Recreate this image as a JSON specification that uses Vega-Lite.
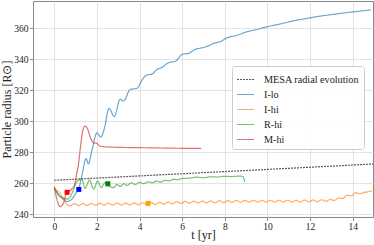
{
  "$schema": "https://vega.github.io/schema/vega-lite/v6.json",
  "width": 340,
  "height": 216,
  "autosize": {"type": "none"},
  "padding": {"left": 33, "top": 1, "right": 1, "bottom": 28},
  "config": {
    "view": {"stroke": "#888", "strokeWidth": 1},
    "font": "Liberation Serif",
    "axis": {
      "domain": false,
      "grid": true,
      "gridColor": "#dcdcdc",
      "gridWidth": 0.8,
      "tickColor": "#888",
      "tickSize": 3.5,
      "labelOverlap": false,
      "labelFont": "Liberation Serif",
      "labelFontSize": 9.5,
      "labelColor": "#222",
      "titleFont": "Liberation Serif",
      "titleFontSize": 12,
      "titleFontWeight": "normal",
      "titleColor": "#222"
    }
  },
  "datasets": {
    "lines": [
      {"series": "MESA radial evolution", "t": 0, "r": 262.0},
      {"series": "MESA radial evolution", "t": 4, "r": 264.8},
      {"series": "MESA radial evolution", "t": 8, "r": 267.6},
      {"series": "MESA radial evolution", "t": 12, "r": 270.4},
      {"series": "MESA radial evolution", "t": 14.95, "r": 272.5},

      {"series": "I-lo", "t": 0, "r": 256.8},
      {"series": "I-lo", "t": 0.15, "r": 253.5},
      {"series": "I-lo", "t": 0.35, "r": 250.5},
      {"series": "I-lo", "t": 0.6, "r": 248.3},
      {"series": "I-lo", "t": 0.8, "r": 249.5},
      {"series": "I-lo", "t": 1.0, "r": 253.5},
      {"series": "I-lo", "t": 1.15, "r": 256.5},
      {"series": "I-lo", "t": 1.3, "r": 265.5},
      {"series": "I-lo", "t": 1.49, "r": 276.0},
      {"series": "I-lo", "t": 1.6, "r": 272.5},
      {"series": "I-lo", "t": 1.76, "r": 281.0},
      {"series": "I-lo", "t": 2.0, "r": 292.5},
      {"series": "I-lo", "t": 2.18, "r": 289.8},
      {"series": "I-lo", "t": 2.34, "r": 295.0},
      {"series": "I-lo", "t": 2.57, "r": 308.4},
      {"series": "I-lo", "t": 2.81, "r": 303.0},
      {"series": "I-lo", "t": 3.09, "r": 314.2},
      {"series": "I-lo", "t": 3.25, "r": 313.1},
      {"series": "I-lo", "t": 3.56, "r": 320.6},
      {"series": "I-lo", "t": 3.88, "r": 321.3},
      {"series": "I-lo", "t": 4.11, "r": 326.6},
      {"series": "I-lo", "t": 4.35, "r": 329.9},
      {"series": "I-lo", "t": 4.58, "r": 330.5},
      {"series": "I-lo", "t": 4.82, "r": 333.5},
      {"series": "I-lo", "t": 5.05, "r": 334.8},
      {"series": "I-lo", "t": 5.36, "r": 337.8},
      {"series": "I-lo", "t": 5.68, "r": 338.7},
      {"series": "I-lo", "t": 6.0, "r": 343.2},
      {"series": "I-lo", "t": 6.31, "r": 343.9},
      {"series": "I-lo", "t": 6.62, "r": 346.5},
      {"series": "I-lo", "t": 6.86, "r": 347.2},
      {"series": "I-lo", "t": 7.2, "r": 348.5},
      {"series": "I-lo", "t": 7.48, "r": 350.3},
      {"series": "I-lo", "t": 7.8, "r": 351.5},
      {"series": "I-lo", "t": 8.11, "r": 353.9},
      {"series": "I-lo", "t": 8.5, "r": 355.2},
      {"series": "I-lo", "t": 9.05, "r": 357.8},
      {"series": "I-lo", "t": 9.5, "r": 359.2},
      {"series": "I-lo", "t": 10.0, "r": 361.0},
      {"series": "I-lo", "t": 10.6, "r": 362.8},
      {"series": "I-lo", "t": 11.25, "r": 364.9},
      {"series": "I-lo", "t": 11.9, "r": 366.5},
      {"series": "I-lo", "t": 12.5, "r": 367.9},
      {"series": "I-lo", "t": 13.1, "r": 369.0},
      {"series": "I-lo", "t": 13.76, "r": 370.2},
      {"series": "I-lo", "t": 14.3, "r": 371.0},
      {"series": "I-lo", "t": 14.85, "r": 371.9},

      {"series": "I-hi", "t": 0, "r": 256.3},
      {"series": "I-hi", "t": 0.19, "r": 254.6},
      {"series": "I-hi", "t": 0.42, "r": 250.3},
      {"series": "I-hi", "t": 0.58, "r": 246.5},
      {"series": "I-hi", "t": 0.74, "r": 245.5},
      {"series": "I-hi", "t": 0.94, "r": 246.9},
      {"series": "I-hi", "t": 1.14, "r": 245.7},
      {"series": "I-hi", "t": 1.34, "r": 247.0},
      {"series": "I-hi", "t": 1.54, "r": 245.8},
      {"series": "I-hi", "t": 1.74, "r": 247.1},
      {"series": "I-hi", "t": 1.94, "r": 245.9},
      {"series": "I-hi", "t": 2.14, "r": 247.1},
      {"series": "I-hi", "t": 2.34, "r": 245.9},
      {"series": "I-hi", "t": 2.54, "r": 247.2},
      {"series": "I-hi", "t": 2.74, "r": 246.0},
      {"series": "I-hi", "t": 2.94, "r": 247.3},
      {"series": "I-hi", "t": 3.14, "r": 246.0},
      {"series": "I-hi", "t": 3.34, "r": 247.3},
      {"series": "I-hi", "t": 3.54, "r": 246.1},
      {"series": "I-hi", "t": 3.74, "r": 247.4},
      {"series": "I-hi", "t": 3.94, "r": 246.2},
      {"series": "I-hi", "t": 4.14, "r": 247.5},
      {"series": "I-hi", "t": 4.34, "r": 246.3},
      {"series": "I-hi", "t": 4.54, "r": 247.6},
      {"series": "I-hi", "t": 4.74, "r": 246.4},
      {"series": "I-hi", "t": 4.94, "r": 247.8},
      {"series": "I-hi", "t": 5.14, "r": 246.6},
      {"series": "I-hi", "t": 5.34, "r": 248.0},
      {"series": "I-hi", "t": 5.54, "r": 246.8},
      {"series": "I-hi", "t": 5.74, "r": 248.2},
      {"series": "I-hi", "t": 5.94, "r": 247.0},
      {"series": "I-hi", "t": 6.14, "r": 248.4},
      {"series": "I-hi", "t": 6.34, "r": 247.2},
      {"series": "I-hi", "t": 6.54, "r": 248.5},
      {"series": "I-hi", "t": 6.74, "r": 247.3},
      {"series": "I-hi", "t": 6.94, "r": 248.6},
      {"series": "I-hi", "t": 7.14, "r": 247.4},
      {"series": "I-hi", "t": 7.34, "r": 248.7},
      {"series": "I-hi", "t": 7.54, "r": 247.5},
      {"series": "I-hi", "t": 7.74, "r": 248.8},
      {"series": "I-hi", "t": 7.94, "r": 247.6},
      {"series": "I-hi", "t": 8.14, "r": 248.9},
      {"series": "I-hi", "t": 8.34, "r": 247.7},
      {"series": "I-hi", "t": 8.54, "r": 249.0},
      {"series": "I-hi", "t": 8.74, "r": 247.8},
      {"series": "I-hi", "t": 8.94, "r": 249.0},
      {"series": "I-hi", "t": 9.14, "r": 247.9},
      {"series": "I-hi", "t": 9.34, "r": 249.1},
      {"series": "I-hi", "t": 9.54, "r": 248.0},
      {"series": "I-hi", "t": 9.74, "r": 249.1},
      {"series": "I-hi", "t": 9.94, "r": 248.0},
      {"series": "I-hi", "t": 10.14, "r": 249.1},
      {"series": "I-hi", "t": 10.34, "r": 248.0},
      {"series": "I-hi", "t": 10.54, "r": 249.1},
      {"series": "I-hi", "t": 10.74, "r": 248.0},
      {"series": "I-hi", "t": 10.94, "r": 249.1},
      {"series": "I-hi", "t": 11.14, "r": 248.0},
      {"series": "I-hi", "t": 11.34, "r": 249.1},
      {"series": "I-hi", "t": 11.54, "r": 248.0},
      {"series": "I-hi", "t": 11.74, "r": 249.2},
      {"series": "I-hi", "t": 11.94, "r": 248.1},
      {"series": "I-hi", "t": 12.14, "r": 249.3},
      {"series": "I-hi", "t": 12.34, "r": 248.2},
      {"series": "I-hi", "t": 12.54, "r": 249.4},
      {"series": "I-hi", "t": 12.74, "r": 248.4},
      {"series": "I-hi", "t": 12.94, "r": 249.6},
      {"series": "I-hi", "t": 13.14, "r": 249.0},
      {"series": "I-hi", "t": 13.34, "r": 250.6},
      {"series": "I-hi", "t": 13.54, "r": 250.2},
      {"series": "I-hi", "t": 13.74, "r": 252.3},
      {"series": "I-hi", "t": 13.94, "r": 252.0},
      {"series": "I-hi", "t": 14.14, "r": 254.0},
      {"series": "I-hi", "t": 14.34, "r": 253.3},
      {"series": "I-hi", "t": 14.54, "r": 254.2},
      {"series": "I-hi", "t": 14.74, "r": 254.6},
      {"series": "I-hi", "t": 14.9, "r": 255.4},

      {"series": "R-hi", "t": 0, "r": 257.4},
      {"series": "R-hi", "t": 0.1, "r": 255.0},
      {"series": "R-hi", "t": 0.19, "r": 252.5},
      {"series": "R-hi", "t": 0.42, "r": 250.7},
      {"series": "R-hi", "t": 0.6, "r": 249.8},
      {"series": "R-hi", "t": 0.75, "r": 251.5},
      {"series": "R-hi", "t": 0.9, "r": 255.7},
      {"series": "R-hi", "t": 1.05, "r": 261.0},
      {"series": "R-hi", "t": 1.29, "r": 262.8},
      {"series": "R-hi", "t": 1.44, "r": 256.8},
      {"series": "R-hi", "t": 1.65, "r": 262.1},
      {"series": "R-hi", "t": 1.84, "r": 256.3},
      {"series": "R-hi", "t": 2.04, "r": 261.5},
      {"series": "R-hi", "t": 2.2, "r": 257.2},
      {"series": "R-hi", "t": 2.39, "r": 260.6},
      {"series": "R-hi", "t": 2.6, "r": 258.0},
      {"series": "R-hi", "t": 2.78, "r": 257.2},
      {"series": "R-hi", "t": 2.94, "r": 259.3},
      {"series": "R-hi", "t": 3.1, "r": 258.0},
      {"series": "R-hi", "t": 3.25, "r": 259.8},
      {"series": "R-hi", "t": 3.41, "r": 258.6},
      {"series": "R-hi", "t": 3.6, "r": 260.3},
      {"series": "R-hi", "t": 3.8, "r": 259.3},
      {"series": "R-hi", "t": 4.0, "r": 260.6},
      {"series": "R-hi", "t": 4.2, "r": 259.8},
      {"series": "R-hi", "t": 4.4, "r": 261.0},
      {"series": "R-hi", "t": 4.6, "r": 260.4},
      {"series": "R-hi", "t": 4.8, "r": 261.5},
      {"series": "R-hi", "t": 5.0, "r": 260.8},
      {"series": "R-hi", "t": 5.2, "r": 262.0},
      {"series": "R-hi", "t": 5.4, "r": 261.6},
      {"series": "R-hi", "t": 5.6, "r": 262.6},
      {"series": "R-hi", "t": 5.8, "r": 262.3},
      {"series": "R-hi", "t": 6.0, "r": 263.2},
      {"series": "R-hi", "t": 6.3, "r": 263.3},
      {"series": "R-hi", "t": 6.7, "r": 264.0},
      {"series": "R-hi", "t": 7.0, "r": 263.6},
      {"series": "R-hi", "t": 7.33, "r": 264.2},
      {"series": "R-hi", "t": 7.7, "r": 264.1},
      {"series": "R-hi", "t": 7.95, "r": 264.5},
      {"series": "R-hi", "t": 8.3, "r": 264.4},
      {"series": "R-hi", "t": 8.74, "r": 264.7},
      {"series": "R-hi", "t": 8.85, "r": 264.3},
      {"series": "R-hi", "t": 8.89, "r": 263.2},
      {"series": "R-hi", "t": 8.93, "r": 261.0},

      {"series": "M-hi", "t": 0, "r": 257.8},
      {"series": "M-hi", "t": 0.11, "r": 250.3},
      {"series": "M-hi", "t": 0.27, "r": 245.0},
      {"series": "M-hi", "t": 0.42, "r": 247.1},
      {"series": "M-hi", "t": 0.54, "r": 252.5},
      {"series": "M-hi", "t": 0.66, "r": 254.6},
      {"series": "M-hi", "t": 0.8, "r": 256.0},
      {"series": "M-hi", "t": 0.97, "r": 260.0},
      {"series": "M-hi", "t": 1.05, "r": 266.5},
      {"series": "M-hi", "t": 1.13, "r": 271.8},
      {"series": "M-hi", "t": 1.21, "r": 281.5},
      {"series": "M-hi", "t": 1.34, "r": 294.4},
      {"series": "M-hi", "t": 1.44, "r": 297.0},
      {"series": "M-hi", "t": 1.55, "r": 295.5},
      {"series": "M-hi", "t": 1.68, "r": 290.0},
      {"series": "M-hi", "t": 1.84, "r": 286.2},
      {"series": "M-hi", "t": 1.99, "r": 285.8},
      {"series": "M-hi", "t": 2.15, "r": 284.0},
      {"series": "M-hi", "t": 2.47, "r": 283.5},
      {"series": "M-hi", "t": 3.09, "r": 283.2},
      {"series": "M-hi", "t": 4.0, "r": 283.0},
      {"series": "M-hi", "t": 5.0, "r": 282.8},
      {"series": "M-hi", "t": 6.0, "r": 282.6},
      {"series": "M-hi", "t": 6.89, "r": 282.5}
    ],
    "markers": [
      {"series": "M-hi", "t": 0.6, "r": 254.2},
      {"series": "I-lo", "t": 1.15, "r": 256.1},
      {"series": "R-hi", "t": 2.51, "r": 259.7},
      {"series": "I-hi", "t": 4.4, "r": 247.1}
    ]
  },
  "encoding": {
    "x": {
      "field": "t", "type": "quantitative",
      "scale": {"domain": [-1, 14.95], "nice": false, "zero": false},
      "axis": {"values": [0, 2, 4, 6, 8, 10, 12, 14], "title": "t [yr]", "labelOverlap": false, "labelPadding": 1, "titlePadding": -2}
    },
    "y": {
      "field": "r", "type": "quantitative",
      "scale": {"domain": [238.3, 377.6], "nice": false, "zero": false},
      "axis": {"values": [240, 260, 280, 300, 320, 340, 360], "title": "Particle radius [R⊙]", "labelOverlap": false, "labelPadding": 1.5, "titlePadding": 0.5}
    }
  },
  "layer": [
    {
      "data": {"name": "lines"},
      "mark": {"type": "line", "strokeWidth": 1.2, "opacity": 0.65, "interpolate": "monotone"},
      "encoding": {
        "color": {
          "field": "series", "type": "nominal",
          "scale": {
            "domain": ["MESA radial evolution", "I-lo", "I-hi", "R-hi", "M-hi"],
            "range": ["#000000", "#1f77b4", "#ff7f0e", "#2ca02c", "#d62728"]
          },
          "legend": {
            "title": null,
            "orient": "none",
            "legendX": 199,
            "legendY": 65,
            "symbolType": "stroke",
            "symbolSize": 289,
            "symbolStrokeWidth": 1.2,
            "rowPadding": 0,
            "labelOffset": 9,
            "padding": 4,
            "strokeColor": "#cccccc",
            "fillColor": "rgba(255,255,255,0.85)",
            "cornerRadius": 3,
            "labelFont": "Liberation Serif",
            "labelFontSize": 10.2,
            "labelColor": "#222",
            "encode": {
              "symbols": {
                "update": {
                  "strokeDash": {"signal": "datum.value === 'MESA radial evolution' ? [2, 1.2] : []"}
                }
              }
            }
          }
        },
        "strokeDash": {
          "field": "series", "type": "nominal",
          "scale": {
            "domain": ["MESA radial evolution", "I-lo", "I-hi", "R-hi", "M-hi"],
            "range": [[2, 1], [1, 0], [1, 0], [1, 0], [1, 0]]
          },
          "legend": null
        }
      }
    },
    {
      "data": {"name": "markers"},
      "mark": {"type": "square", "size": 25, "filled": true, "opacity": 1},
      "encoding": {
        "fill": {
          "field": "series", "type": "nominal",
          "scale": {
            "domain": ["I-lo", "I-hi", "R-hi", "M-hi"],
            "range": ["#0000ff", "#ffa500", "#008000", "#ff0000"]
          },
          "legend": null
        }
      }
    }
  ]
}
